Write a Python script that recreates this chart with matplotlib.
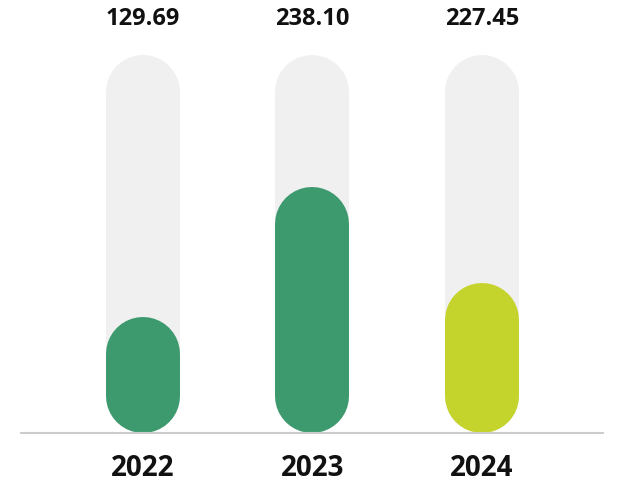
import matplotlib
matplotlib.use("Agg")
import matplotlib.pyplot as plt

# data
years = ["2022", "2023", "2024"]
values = [129.69, 238.10, 227.45]
fill_heights = [116, 246, 150]   # height of the coloured pill (chart units)
track_height = 378               # height of the grey track
colors = ["#3d9a6e", "#3d9a6e", "#c4d42c"]

plt.rcParams["font.family"] = ["Open Sans", "DejaVu Sans"]

dpi = 100
fig = plt.figure(figsize=(6.24, 5.0), dpi=dpi)
ax = fig.add_axes([0, 0, 1, 1])
ax.set_xlim(-0.8437, 2.838)
ax.set_ylim(-67.3, 432.7)
ax.axis("off")

bar_px = 74
lw = bar_px * 72 / dpi
r = bar_px / 2   # y units are 1 px

for i in range(len(years)):
    # grey track
    ax.plot([i, i], [r, track_height - r], color="#f0f0f0", lw=lw,
            solid_capstyle="round", zorder=1)
    # coloured pill
    ax.plot([i, i], [r, fill_heights[i] - r], color=colors[i], lw=lw,
            solid_capstyle="round", zorder=2)
    ax.text(i, 414, f"{values[i]:.2f}", ha="center", va="center",
            fontsize=17, fontweight="bold", color="#111111")
    ax.text(i, -36, years[i], ha="center", va="center",
            fontsize=20, fontweight="bold", color="#111111")

# baseline
ax.plot([-0.7198, 2.7168], [0, 0], color="#cccccc", lw=1.5, zorder=3)

fig.savefig("out.png", dpi=dpi)
